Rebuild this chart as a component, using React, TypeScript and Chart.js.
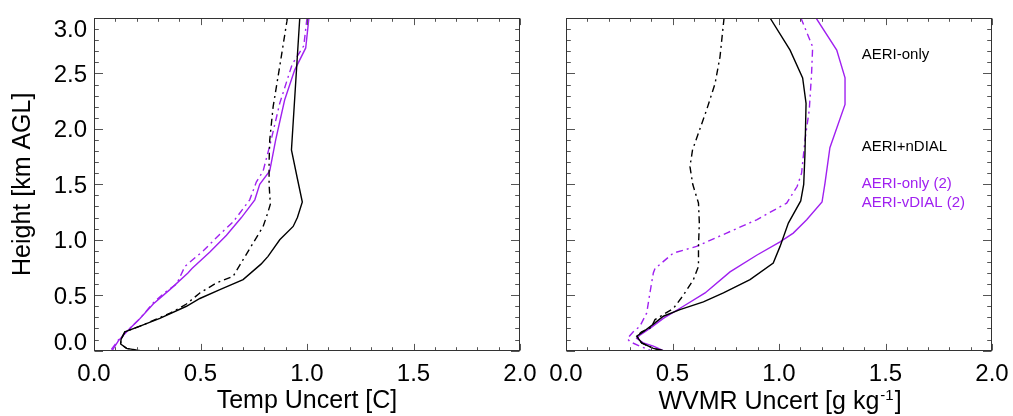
import { useEffect, useRef } from "react";
import { Chart, registerables } from "chart.js";

Chart.register(...registerables);

// ---------- data ----------
const heightTicks = [0, 0.5, 1.0, 1.5, 2.0, 2.5, 3.0];
const heightTickLabels = ["0.0", "0.5", "1.0", "1.5", "2.0", "2.5", "3.0"];
const uncertTicks = [0, 0.5, 1.0, 1.5, 2.0];
const uncertTickLabels = ["0.0", "0.5", "1.0", "1.5", "2.0"];

const seriesNames = ["AERI-only", "AERI+nDIAL", "AERI-only (2)", "AERI-vDIAL (2)"];

// [uncertainty, height km]
const tempAeriOnly: [number, number][] = [
  [0.966, 3.0], [0.927, 1.81], [0.955, 1.55], [0.978, 1.34], [0.955, 1.2], [0.935, 1.12],
  [0.872, 1.0], [0.817, 0.85], [0.784, 0.78], [0.7, 0.64], [0.591, 0.55], [0.497, 0.47],
  [0.434, 0.4], [0.309, 0.29], [0.216, 0.22], [0.145, 0.17], [0.127, 0.1], [0.125, 0.06],
  [0.153, 0.02], [0.216, 0.0],
];
const tempAeriNdial: [number, number][] = [
  [0.908, 3.0], [0.875, 2.6], [0.841, 2.2], [0.825, 1.9], [0.822, 1.7], [0.822, 1.5],
  [0.828, 1.32], [0.812, 1.22], [0.794, 1.12], [0.747, 0.97], [0.7, 0.82], [0.653, 0.67],
  [0.575, 0.61], [0.497, 0.52], [0.434, 0.42], [0.36, 0.34], [0.3, 0.29], [0.216, 0.22],
  [0.145, 0.17], [0.127, 0.1], [0.125, 0.06], [0.153, 0.02], [0.216, 0.0],
];
const tempAeriOnly2: [number, number][] = [
  [1.009, 3.0], [0.994, 2.73], [0.942, 2.53], [0.895, 2.26], [0.853, 1.9], [0.825, 1.62],
  [0.778, 1.5], [0.755, 1.36], [0.692, 1.2], [0.622, 1.04], [0.544, 0.89], [0.46, 0.74],
  [0.441, 0.7], [0.356, 0.55], [0.278, 0.42], [0.216, 0.29], [0.153, 0.17], [0.115, 0.09],
  [0.085, 0.0],
];
const tempAeriVdial2: [number, number][] = [
  [1.0, 3.0], [0.985, 2.75], [0.93, 2.58], [0.872, 2.23], [0.828, 1.87], [0.794, 1.62],
  [0.762, 1.52], [0.731, 1.36], [0.653, 1.16], [0.591, 1.05], [0.513, 0.9], [0.427, 0.76],
  [0.388, 0.6], [0.33, 0.52], [0.278, 0.43], [0.216, 0.29], [0.153, 0.17], [0.112, 0.09],
  [0.078, 0.0],
];

const wvmrAeriOnly: [number, number][] = [
  [0.958, 3.0], [1.052, 2.71], [1.111, 2.46], [1.127, 2.23], [1.122, 1.78], [1.116, 1.5],
  [1.102, 1.35], [1.044, 1.15], [1.005, 0.94], [0.973, 0.79], [0.864, 0.64], [0.739, 0.52],
  [0.645, 0.44], [0.535, 0.37], [0.457, 0.31], [0.418, 0.25], [0.363, 0.17], [0.332, 0.13],
  [0.355, 0.07], [0.41, 0.02], [0.457, 0.0],
];
const wvmrAeriNdial: [number, number][] = [
  [0.742, 3.0], [0.723, 2.65], [0.7, 2.41], [0.66, 2.17], [0.594, 1.81], [0.582, 1.66],
  [0.595, 1.5], [0.622, 1.33], [0.626, 1.15], [0.622, 0.94], [0.622, 0.76], [0.598, 0.64],
  [0.551, 0.5], [0.504, 0.38], [0.418, 0.28], [0.4, 0.21], [0.355, 0.17], [0.332, 0.13],
  [0.355, 0.07], [0.41, 0.02], [0.457, 0.0],
];
const wvmrAeriOnly2: [number, number][] = [
  [1.174, 3.0], [1.271, 2.71], [1.31, 2.46], [1.31, 2.22], [1.239, 1.83], [1.216, 1.51],
  [1.202, 1.34], [1.13, 1.18], [1.067, 1.06], [1.005, 0.98], [0.895, 0.86], [0.77, 0.71],
  [0.653, 0.52], [0.551, 0.4], [0.457, 0.29], [0.394, 0.2], [0.347, 0.14], [0.332, 0.11],
  [0.363, 0.07], [0.41, 0.04], [0.457, 0.0],
];
const wvmrAeriVdial2: [number, number][] = [
  [1.103, 3.0], [1.158, 2.74], [1.153, 2.5], [1.142, 2.17], [1.122, 1.9], [1.106, 1.6],
  [1.085, 1.48], [1.036, 1.33], [0.895, 1.18], [0.754, 1.06], [0.613, 0.94], [0.504, 0.88],
  [0.418, 0.74], [0.41, 0.7], [0.394, 0.52], [0.379, 0.34], [0.347, 0.22], [0.316, 0.17],
  [0.288, 0.11], [0.3, 0.08], [0.347, 0.04], [0.4, 0.0],
];

// ---------- styles ----------
const FONT = "'Liberation Sans', Arial, Helvetica, sans-serif";
const BLACK = "#000000";
const PURPLE = "#A020F0";
const DASHDOT = [7, 4, 2, 4];
const W = 1013;
const H = 416;

Chart.defaults.font.family = FONT;

function ds(label: string, pts: [number, number][], color: string, dash: number[]) {
  return {
    label,
    data: pts.map(([x, y]) => ({ x, y })),
    showLine: true,
    borderColor: color,
    backgroundColor: color,
    borderWidth: 1.4,
    borderDash: dash,
    pointRadius: 0,
    pointHoverRadius: 0,
    tension: 0,
    fill: false,
  };
}

const framePlugin = {
  id: "idlFrame",
  afterDraw(chart: any, _args: any, opts: any) {
    const { ctx, chartArea: a, scales } = chart;
    const xs = scales.x;
    const ys = scales.y;
    ctx.save();
    const L = Math.round(a.left) + 0.5;
    const R = Math.round(a.right) - 0.5;
    const T = Math.round(a.top) + 0.5;
    const B = Math.round(a.bottom) - 0.5;
    // ticks
    ctx.strokeStyle = "#555";
    ctx.lineWidth = 1;
    ctx.beginPath();
    for (let i = 0; i <= 20; i++) {
      const v = i / 10;
      const px = Math.round(xs.getPixelForValue(v)) + 0.5;
      const len = i % 5 === 0 ? 6.6 : 3.3;
      ctx.moveTo(px, B);
      ctx.lineTo(px, B - len);
      ctx.moveTo(px, T);
      ctx.lineTo(px, T + len);
    }
    for (let i = 0; i <= 30; i++) {
      const v = i / 10;
      const py = Math.round(ys.getPixelForValue(v)) + 0.5;
      const len = i % 5 === 0 ? 8.5 : 4.3;
      ctx.moveTo(L, py);
      ctx.lineTo(L + len, py);
      ctx.moveTo(R, py);
      ctx.lineTo(R - len, py);
    }
    ctx.stroke();
    // frame
    ctx.strokeStyle = "#333";
    ctx.strokeRect(L, T, R - L, B - T);

    // y tick labels (IDL-style: end labels kept inside the axis extent)
    if (opts && opts.yLabels) {
      ctx.fillStyle = "#000";
      ctx.font = `24px ${FONT}`;
      ctx.textAlign = "right";
      ctx.textBaseline = "alphabetic";
      const capH = 0.716 * 24;
      heightTicks.forEach((v, i) => {
        const py = ys.getPixelForValue(v);
        let base = py + capH / 2;
        base = Math.max(base, a.top + 1.7 + capH);
        base = Math.min(base, a.bottom - 0.5);
        ctx.fillText(heightTickLabels[i], a.left - 7, base);
      });
    }
    ctx.restore();
  },
};

const wvmrTextPlugin = {
  id: "wvmrText",
  afterDraw(chart: any) {
    const { ctx, chartArea: a, scales } = chart;
    const xs = scales.x;
    ctx.save();
    // x axis title with superscript
    const main = "WVMR Uncert [g kg";
    const sup = "-1";
    const end = "]";
    ctx.fillStyle = "#000";
    ctx.textBaseline = "alphabetic";
    ctx.textAlign = "left";
    ctx.font = `25px ${FONT}`;
    const w1 = ctx.measureText(main).width;
    const w3 = ctx.measureText(end).width;
    ctx.font = `15px ${FONT}`;
    const w2 = ctx.measureText(sup).width;
    const cx = (xs.left + xs.right) / 2;
    const x0 = cx - (w1 + w2 + w3) / 2;
    const base = 409;
    ctx.font = `25px ${FONT}`;
    ctx.fillText(main, x0, base);
    ctx.font = `15px ${FONT}`;
    ctx.fillText(sup, x0 + w1 + 1, base - 9);
    ctx.font = `25px ${FONT}`;
    ctx.fillText(end, x0 + w1 + w2 + 2, base);

    // series labels
    ctx.font = `15px ${FONT}`;
    const lx = a.left + 295.7;
    const rows: [string, string, number][] = [
      [seriesNames[0], BLACK, 41.1],
      [seriesNames[1], BLACK, 132.9],
      [seriesNames[2], PURPLE, 169.8],
      [seriesNames[3], PURPLE, 188.8],
    ];
    rows.forEach(([t, c, dy]) => {
      ctx.fillStyle = c;
      ctx.fillText(t, lx, a.top + dy);
    });
    ctx.restore();
  },
};

function makeConfig(which: "temp" | "wvmr") {
  const isTemp = which === "temp";
  const sets = isTemp
    ? [tempAeriOnly, tempAeriNdial, tempAeriOnly2, tempAeriVdial2]
    : [wvmrAeriOnly, wvmrAeriNdial, wvmrAeriOnly2, wvmrAeriVdial2];
  const colors = [BLACK, BLACK, PURPLE, PURPLE];
  const dashes = [[], DASHDOT, [], DASHDOT];
  return {
    type: "scatter" as const,
    data: {
      datasets: sets.map((s, i) => ds(seriesNames[i], s, colors[i], dashes[i])),
    },
    options: {
      responsive: false,
      animation: false as const,
      events: [],
      layout: {
        padding: isTemp
          ? { left: 0, top: 18, right: W - 520, bottom: 0 }
          : { left: 0, top: 18, right: W - 992, bottom: 0 },
      },
      plugins: {
        legend: { display: false },
        tooltip: { enabled: false },
        idlFrame: { yLabels: isTemp },
      },
      scales: {
        x: {
          type: "linear" as const,
          min: 0,
          max: 2,
          grid: { display: false, drawTicks: false },
          border: { display: false },
          ticks: {
            font: { size: 24, family: FONT },
            color: "#000",
            padding: 9,
            maxRotation: 0,
            autoSkip: false,
            callback: (_v: any, i: number) => uncertTickLabels[i],
          },
          afterBuildTicks: (s: any) => {
            s.ticks = uncertTicks.map((v) => ({ value: v }));
          },
          afterFit: (s: any) => {
            s.height = H - 350.6;
            s.paddingLeft = 0;
            s.paddingRight = 0;
          },
          title: {
            display: isTemp,
            text: "Temp Uncert [C]",
            font: { size: 25, family: FONT },
            color: "#000",
            padding: { top: 0, bottom: 0 },
          },
        },
        y: {
          type: "linear" as const,
          min: 0,
          max: 3,
          grid: { display: false, drawTicks: false },
          border: { display: false },
          ticks: { display: false },
          afterBuildTicks: (s: any) => {
            s.ticks = heightTicks.map((v) => ({ value: v }));
          },
          afterFit: (s: any) => {
            s.width = isTemp ? 94 : 566;
            s.paddingTop = 0;
            s.paddingBottom = 0;
          },
          title: {
            display: isTemp,
            text: "Height [km AGL]",
            font: { size: 25, family: FONT },
            color: "#000",
            padding: { top: 8, bottom: 0 },
          },
        },
      },
    },
    plugins: isTemp ? [framePlugin] : [framePlugin, wvmrTextPlugin],
  };
}

export default function App() {
  const ref1 = useRef<HTMLCanvasElement | null>(null);
  const ref2 = useRef<HTMLCanvasElement | null>(null);

  useEffect(() => {
    if (!ref1.current || !ref2.current) return;
    const c1 = new Chart(ref1.current, makeConfig("temp") as any);
    const c2 = new Chart(ref2.current, makeConfig("wvmr") as any);
    return () => {
      c1.destroy();
      c2.destroy();
    };
  }, []);

  const canvasStyle: React.CSSProperties = {
    position: "absolute",
    left: 0,
    top: 0,
    width: W,
    height: H,
  };

  return (
    <div
      style={{
        position: "fixed",
        left: 0,
        top: 0,
        width: W,
        height: H,
        background: "#ffffff",
        overflow: "hidden",
      }}
    >
      <canvas ref={ref1} width={W} height={H} style={canvasStyle} />
      <canvas ref={ref2} width={W} height={H} style={canvasStyle} />
    </div>
  );
}
